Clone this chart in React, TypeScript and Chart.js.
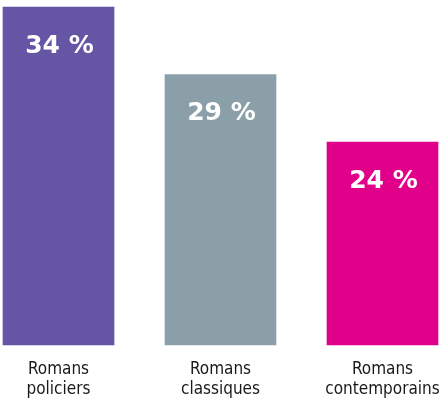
import React, { useEffect, useRef } from "react";
import { Chart, registerables } from "chart.js";

Chart.register(...registerables);

const categories: string[][] = [
  ["Romans", "policiers"],
  ["Romans", "classiques"],
  ["Romans", "contemporains"],
];
const values: number[] = [34, 29, 24];
const valueLabels: string[] = ["34 %", "29 %", "24 %"];
const colors: string[] = ["#6556a5", "#8a9fa7", "#e1008a"];

const valuePlugin = {
  id: "valueLabels",
  afterDatasetsDraw(chart: any) {
    const ctx = chart.ctx;
    const meta = chart.getDatasetMeta(0);
    ctx.save();
    ctx.fillStyle = "#ffffff";
    ctx.font = "700 25px 'DejaVu Sans'";
    ctx.textAlign = "center";
    ctx.textBaseline = "middle";
    meta.data.forEach((bar: any, i: number) => {
      ctx.fillText(valueLabels[i], bar.x + 1, bar.y + 39);
    });
    ctx.restore();
  },
};

export default function App() {
  const ref = useRef<HTMLCanvasElement>(null);
  useEffect(() => {
    if (!ref.current) return;
    const chart = new Chart(ref.current, {
      type: "bar",
      data: {
        labels: categories,
        datasets: [
          {
            data: values,
            backgroundColor: colors,
            borderWidth: 0,
            barThickness: 111,
            base: 9,
            clip: false as any,
          } as any,
        ],
      },
      options: {
        animation: false,
        responsive: true,
        maintainAspectRatio: false,
        layout: { padding: { left: 58.5, right: 56.5, top: 7, bottom: 0 } },
        plugins: { legend: { display: false }, tooltip: { enabled: false } },
        scales: {
          x: {
            offset: false,
            grid: { display: false },
            border: { display: false },
            ticks: {
              color: "#1a1a1a",
              font: { family: "'DejaVu Sans Condensed'", size: 17, lineHeight: 1.2 },
              padding: 6,
              maxRotation: 0,
              autoSkip: false,
            },
            afterFit: (scale: any) => {
              scale.height = 56;
              scale.paddingLeft = 0;
              scale.paddingRight = 0;
            },
          },
          y: {
            display: false,
            min: 9,
            max: 34,
          },
        },
      },
      plugins: [valuePlugin],
    });
    return () => chart.destroy();
  }, []);
  return (
    <div style={{ position: "fixed", left: 0, top: 0, width: 439, height: 401 }}>
      <canvas ref={ref} />
    </div>
  );
}
